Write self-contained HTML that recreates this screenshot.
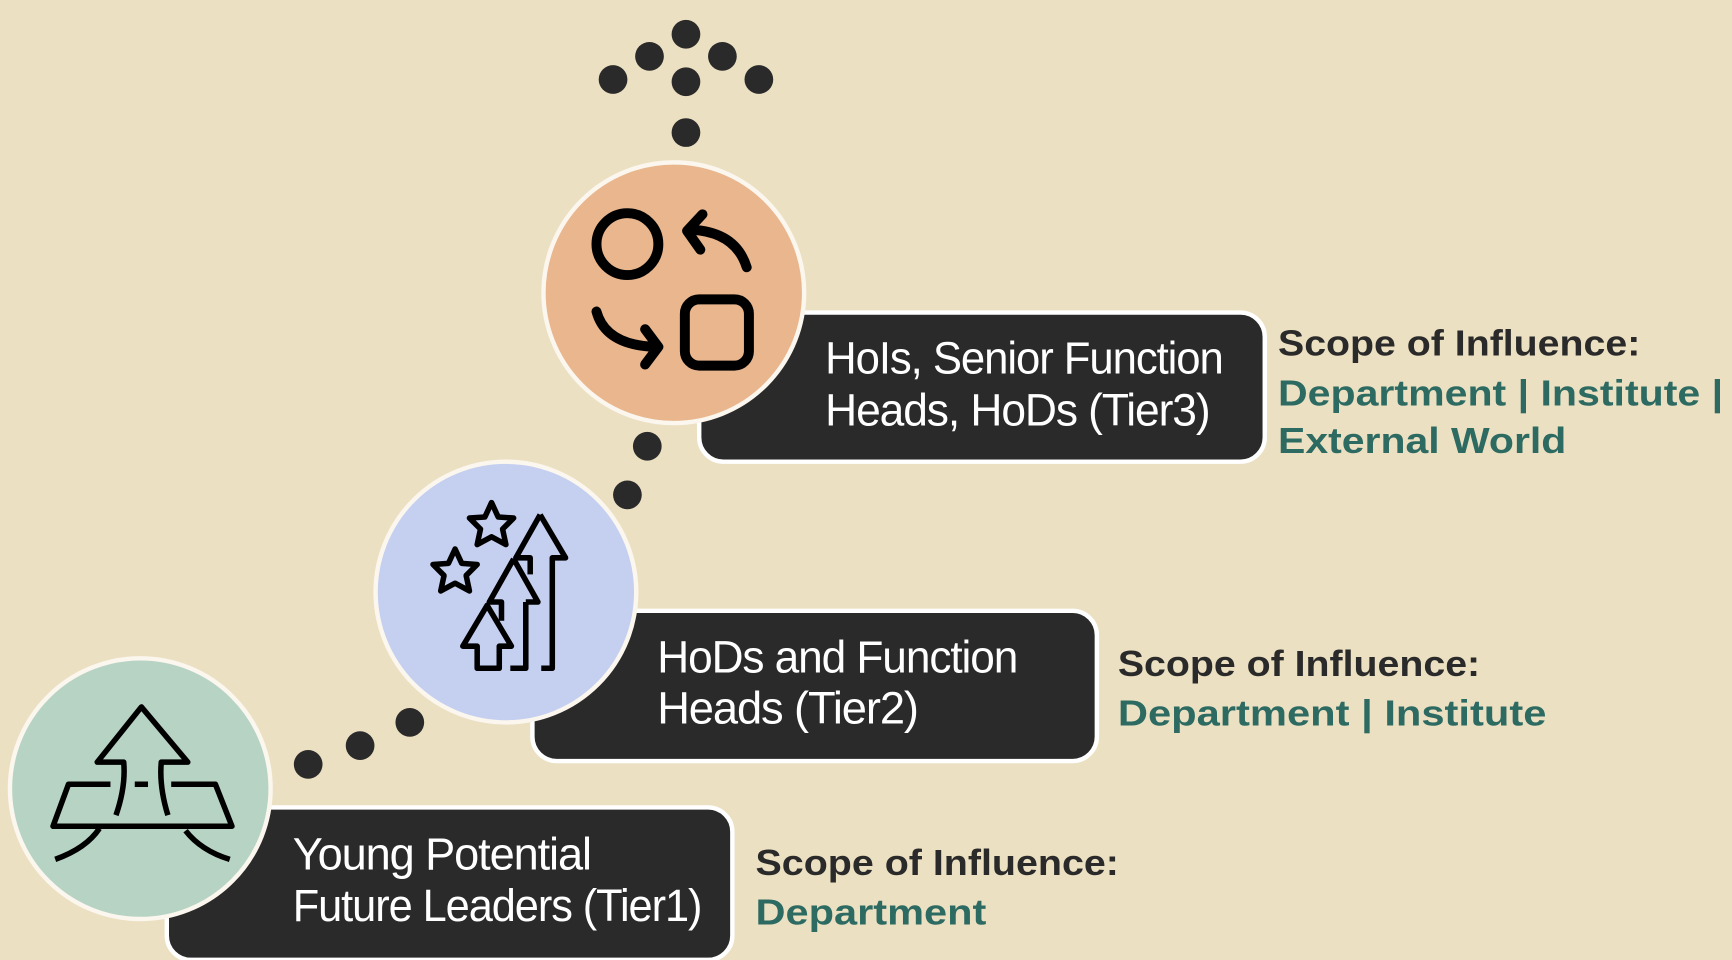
<!DOCTYPE html>
<html><head><meta charset="utf-8"><style>
html,body{margin:0;padding:0;background:#ece0c2;}
svg{display:block;}
.bt{font-family:"Liberation Sans Narrow","Liberation Sans",sans-serif;fill:#fff;font-size:41px;letter-spacing:-1px;}
.sc{font-family:"Liberation Sans",sans-serif;font-weight:bold;font-size:33px;}
</style></head><body>
<svg width="1732" height="960" viewBox="0 0 1568 869.1" xmlns="http://www.w3.org/2000/svg">
<rect width="1568" height="870" fill="#ece0c2"/>
<g fill="#2a2a2a">
<circle cx="621" cy="31" r="13"/><circle cx="588" cy="51" r="13"/><circle cx="654" cy="51" r="13"/>
<circle cx="555" cy="72" r="13"/><circle cx="621" cy="74" r="13"/><circle cx="687" cy="72" r="13"/>
<circle cx="621" cy="120" r="13"/>
<circle cx="586" cy="404" r="13"/><circle cx="568" cy="448" r="13"/>
<circle cx="371" cy="654" r="13"/><circle cx="326" cy="675" r="13"/><circle cx="279" cy="692" r="13"/>
</g>
<!-- boxes -->
<rect x="633" y="283" width="512" height="135" rx="22" fill="#2a2a2a" stroke="#fff" stroke-width="4"/>
<rect x="482" y="553" width="511" height="136" rx="22" fill="#2a2a2a" stroke="#fff" stroke-width="4"/>
<rect x="151" y="731" width="512" height="138" rx="22" fill="#2a2a2a" stroke="#fff" stroke-width="4"/>
<!-- circles -->
<circle cx="610" cy="265" r="118" fill="#e9b68e" stroke="#fbf6ee" stroke-width="4"/>
<circle cx="458" cy="536" r="118" fill="#c5d0f0" stroke="#fbf6ee" stroke-width="4"/>
<circle cx="127" cy="714" r="118" fill="#b7d3c4" stroke="#fbf6ee" stroke-width="4"/>
<!-- orange icon -->
<g fill="none" stroke="#000" stroke-width="9" stroke-linecap="round" stroke-linejoin="round">
<circle cx="568" cy="221" r="28"/>
<rect x="620" y="271" width="58" height="60" rx="13"/>
<path d="M676 242 Q666 210 626 208"/><path d="M636 194 L622 209 L634 226"/>
<path d="M540 282 Q548 312 592 314"/><path d="M584 298 L596 314 L584 330"/>
</g>
<!-- blue icon -->
<g fill="none" stroke="#000" stroke-width="5" stroke-linejoin="round">
<path d="M489 466 L467 505 L480 505 L480 520 M500 505 L512 505 Z M500 505 L500 605 L490 605"/>
<path d="M489 466 L512 505"/>
<path d="M465 506 L443 545 L454 545 L454 562 M476 545 L487 545 L465 506 M476 545 L476 605 L462 605"/>
<path d="M441 548 L419 585 L432 585 L432 605 L452 605 L452 585 L463 585 Z"/>
<path d="M445 455 L451 468 L465 469 L455 479 L458 493 L445 486 L432 493 L435 479 L425 469 L439 468 Z"/>
<path d="M412 497 L418 510 L432 511 L422 521 L425 535 L412 528 L399 535 L402 521 L392 511 L406 510 Z"/>
</g>
<!-- green icon -->
<g fill="none" stroke="#000" stroke-width="5" stroke-linejoin="round">
<path d="M105 738 Q114 712 112 690 L88 690 L128 640 L170 690 L146 690 Q144 712 152 738"/>
<path d="M100 710 L62 710 L48 748 L210 748 L195 710 L155 710"/>
<path d="M122 710 L134 710"/>
<path d="M50 778 Q78 768 90 750"/><path d="M168 752 Q182 770 208 778"/>
</g>
<!-- box text -->
<text class="bt" x="747" y="338" textLength="360" lengthAdjust="spacingAndGlyphs">HoIs, Senior Function</text>
<text class="bt" x="747" y="385" textLength="348" lengthAdjust="spacingAndGlyphs">Heads, HoDs  (Tier3)</text>
<text class="bt" x="595" y="609" textLength="326" lengthAdjust="spacingAndGlyphs">HoDs and Function</text>
<text class="bt" x="595" y="655" textLength="236" lengthAdjust="spacingAndGlyphs">Heads  (Tier2)</text>
<text class="bt" x="265" y="787" textLength="270" lengthAdjust="spacingAndGlyphs">Young Potential</text>
<text class="bt" x="265" y="834" textLength="370" lengthAdjust="spacingAndGlyphs">Future Leaders (Tier1)</text>
<!-- scope text -->
<text class="sc" x="1157" y="322" fill="#2a2a2a" textLength="328" lengthAdjust="spacingAndGlyphs">Scope of Influence:</text>
<text class="sc" x="1157" y="367" fill="#2d6b62" textLength="403" lengthAdjust="spacingAndGlyphs">Department | Institute |</text>
<text class="sc" x="1157" y="410" fill="#2d6b62" textLength="261" lengthAdjust="spacingAndGlyphs">External World</text>
<text class="sc" x="1012" y="612" fill="#2a2a2a" textLength="328" lengthAdjust="spacingAndGlyphs">Scope of Influence:</text>
<text class="sc" x="1012" y="657" fill="#2d6b62" textLength="388" lengthAdjust="spacingAndGlyphs">Department | Institute</text>
<text class="sc" x="684" y="792" fill="#2a2a2a" textLength="329" lengthAdjust="spacingAndGlyphs">Scope of Influence:</text>
<text class="sc" x="684" y="837" fill="#2d6b62" textLength="209" lengthAdjust="spacingAndGlyphs">Department</text>
</svg>
</body></html>
